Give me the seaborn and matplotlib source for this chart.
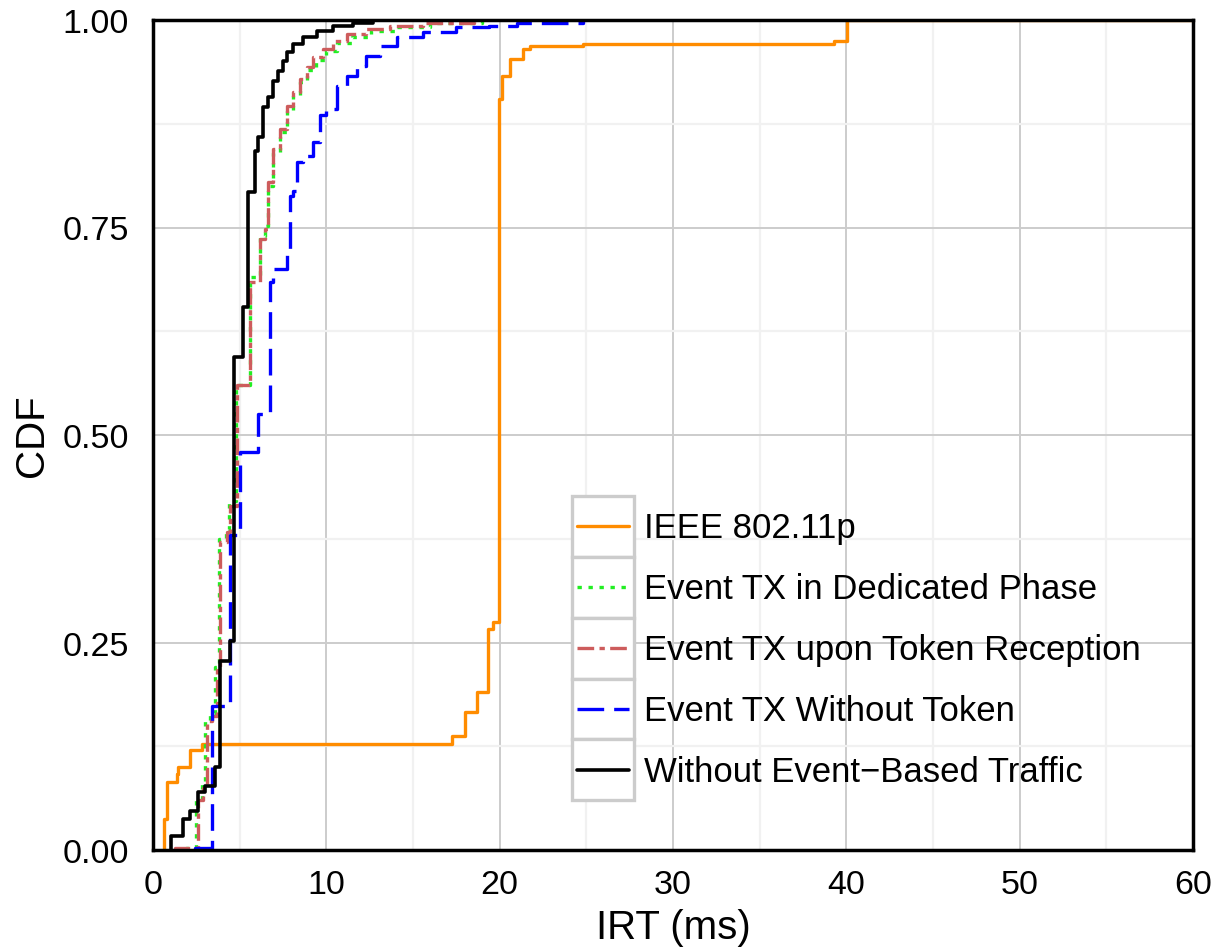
import numpy as np
import pandas as pd
import matplotlib
matplotlib.use("Agg")
import matplotlib.pyplot as plt
import seaborn as sns
from matplotlib.patches import Rectangle
from matplotlib.legend_handler import HandlerLine2D

# ---------------- data (step ECDF breakpoints) ----------------
series_names = [
    "IEEE 802.11p",
    "Event TX in Dedicated Phase",
    "Event TX upon Token Reception",
    "Event TX Without Token",
    "Without Event\u2212Based Traffic",
]

ieee_x = [0.63, 0.63, 0.79, 1.37, 1.46, 2.13, 2.81, 17.23, 18.0, 18.67, 19.35, 19.63,
          19.95, 20.12, 20.6, 21.37, 21.75, 24.83, 39.26, 40.03, 60.0]
ieee_y = [0.0, 0.037, 0.082, 0.092, 0.100, 0.120, 0.128, 0.137, 0.166, 0.190, 0.266, 0.275,
          0.905, 0.933, 0.953, 0.965, 0.969, 0.971, 0.975, 1.0, 1.0]

dedic_x = [1.9, 1.9, 2.5, 2.85, 3.0, 3.3, 3.6, 3.8, 4.2, 4.4, 4.8, 5.6, 6.17, 6.46, 6.65,
           6.94, 7.33, 7.71, 8.1, 8.48, 8.87, 9.4, 10.0, 10.6, 11.5, 12.6, 14.0, 16.0, 19.0]
dedic_y = [0.0, 0.003, 0.060, 0.080, 0.155, 0.165, 0.220, 0.375, 0.387, 0.420, 0.560, 0.690,
           0.740, 0.752, 0.800, 0.840, 0.865, 0.890, 0.908, 0.925, 0.940, 0.952, 0.963,
           0.972, 0.980, 0.987, 0.992, 0.996, 1.0]

token_x = [1.27, 1.27, 2.61, 2.9, 3.1, 3.39, 3.7, 3.87, 4.25, 4.44, 4.83, 5.6, 6.17, 6.46,
           6.65, 6.94, 7.33, 7.71, 8.1, 8.48, 8.87, 9.25, 9.83, 10.4, 11.2, 12.3, 13.7, 15.6, 18.5]
token_y = [0.0, 0.003, 0.060, 0.075, 0.155, 0.161, 0.220, 0.371, 0.383, 0.415, 0.560, 0.684,
           0.736, 0.748, 0.805, 0.845, 0.869, 0.896, 0.913, 0.929, 0.943, 0.955, 0.965,
           0.975, 0.983, 0.989, 0.993, 0.996, 1.0]

notok_x = [2.42, 2.42, 3.39, 4.44, 5.02, 6.08, 6.75, 6.94, 7.71, 7.9, 8.1, 8.29, 8.67, 9.25,
           9.64, 10.0, 10.6, 11.2, 11.75, 12.3, 13.1, 14.06, 15.6, 17.5, 19.4, 21.0, 24.8]
notok_y = [0.0, 0.003, 0.173, 0.380, 0.480, 0.525, 0.684, 0.700, 0.720, 0.788, 0.794, 0.829,
           0.836, 0.853, 0.885, 0.893, 0.920, 0.933, 0.945, 0.957, 0.969, 0.979, 0.985,
           0.991, 0.993, 0.996, 1.0]

noev_x = [1.02, 1.02, 1.75, 2.13, 2.61, 3.0, 3.58, 3.87, 4.44, 4.7, 5.21, 5.5, 5.89, 6.08,
          6.37, 6.65, 6.94, 7.23, 7.52, 7.71, 8.1, 8.67, 9.44, 10.4, 11.56, 12.7]
noev_y = [0.0, 0.017, 0.037, 0.047, 0.070, 0.077, 0.100, 0.228, 0.252, 0.594, 0.654, 0.793,
          0.842, 0.859, 0.895, 0.907, 0.927, 0.939, 0.951, 0.961, 0.971, 0.979, 0.987,
          0.993, 0.996, 1.0]

x_ticks = [0, 10, 20, 30, 40, 50, 60]
y_ticks = [0.0, 0.25, 0.50, 0.75, 1.00]
y_tick_labels = ["0.00", "0.25", "0.50", "0.75", "1.00"]

# ---------------- styling ----------------
sns.set_theme(style="white")
plt.rcParams["font.family"] = ["Liberation Sans", "DejaVu Sans"]
plt.rcParams["text.color"] = "black"
plt.rcParams["axes.labelcolor"] = "black"

colors = ["#FF8C00", "#22EE22", "#CD5C5C", "#0000FF", "#000000"]
styles = ["-", (0, (1.3, 2.0)), (0, (5, 1.6, 1.6, 1.6)), (0, (8, 3)), "-"]
widths = [2.4, 2.4, 2.4, 2.4, 2.6]
xs = [ieee_x, dedic_x, token_x, notok_x, noev_x]
ys = [ieee_y, dedic_y, token_y, notok_y, noev_y]

fig = plt.figure(figsize=(12.18, 9.53), dpi=100)
ax = fig.add_axes([153 / 1218, 102 / 953, 1040 / 1218, 830 / 953])

for name, x, y, c, ls, lw in zip(series_names, xs, ys, colors, styles, widths):
    df = pd.DataFrame({"IRT": x, "CDF": y})
    sns.lineplot(data=df, x="IRT", y="CDF", ax=ax, color=c, linewidth=lw,
                 drawstyle="steps-post", estimator=None, sort=False, label=name)
    ln = ax.get_lines()[-1]
    ln.set_linestyle(ls)

ax.set_xlim(0, 60)
ax.set_ylim(0, 1)
ax.set_xticks(x_ticks)
ax.set_yticks(y_ticks)
ax.set_yticklabels(y_tick_labels)
ax.set_xticks([5, 15, 25, 35, 45, 55], minor=True)
ax.set_yticks([0.125, 0.375, 0.625, 0.875], minor=True)

ax.grid(True, which="major", color="#cccccc", linewidth=1.4, zorder=0)
ax.grid(True, which="minor", color="#f1f1f1", linewidth=1.6, zorder=0)
ax.set_axisbelow(True)

for sp in ax.spines.values():
    sp.set_visible(True)
    sp.set_color("black")
    sp.set_linewidth(2.5)

ax.tick_params(axis="both", which="major", direction="out", length=9.5, width=2.3,
               color="black", labelsize=24.5, labelcolor="black")
ax.tick_params(axis="y", which="major", pad=8)
ax.tick_params(axis="x", which="major", pad=4)
ax.tick_params(axis="both", which="minor", length=0)

ax.set_xlabel("IRT (ms)", fontsize=29, labelpad=6, color="black")
ax.set_ylabel("CDF", fontsize=29, labelpad=8, color="black")


class BoxedHandler(HandlerLine2D):
    def create_artists(self, legend, orig_handle, xdescent, ydescent, width, height,
                       fontsize, trans):
        arts = list(super().create_artists(legend, orig_handle, xdescent, ydescent,
                                           width, height, fontsize, trans))
        yc = height / 2.0 - ydescent
        pad = 0.15 * fontsize
        for a in arts:
            if isinstance(a, matplotlib.lines.Line2D):
                a.set_xdata([-xdescent + pad, -xdescent + width - pad])
                a.set_ydata([yc, yc])
        rect = Rectangle((-xdescent, -ydescent), width, height,
                         facecolor="white", edgecolor="#cccccc", linewidth=2.4,
                         transform=trans)
        return [rect] + arts


handles, labels = ax.get_legend_handles_labels()
leg_fs = 25
leg = ax.legend(handles, labels, loc="upper left",
                bbox_to_anchor=(572 / 1218, 1 - 497 / 953),
                bbox_transform=fig.transFigure, frameon=False, fontsize=leg_fs,
                borderpad=0, borderaxespad=0, labelspacing=0,
                handlelength=1.79, handleheight=2.32, handletextpad=0.28,
                handler_map={matplotlib.lines.Line2D: BoxedHandler(numpoints=2)})
for t in leg.get_texts():
    t.set_color("black")

fig.savefig("out.png", dpi=100)
